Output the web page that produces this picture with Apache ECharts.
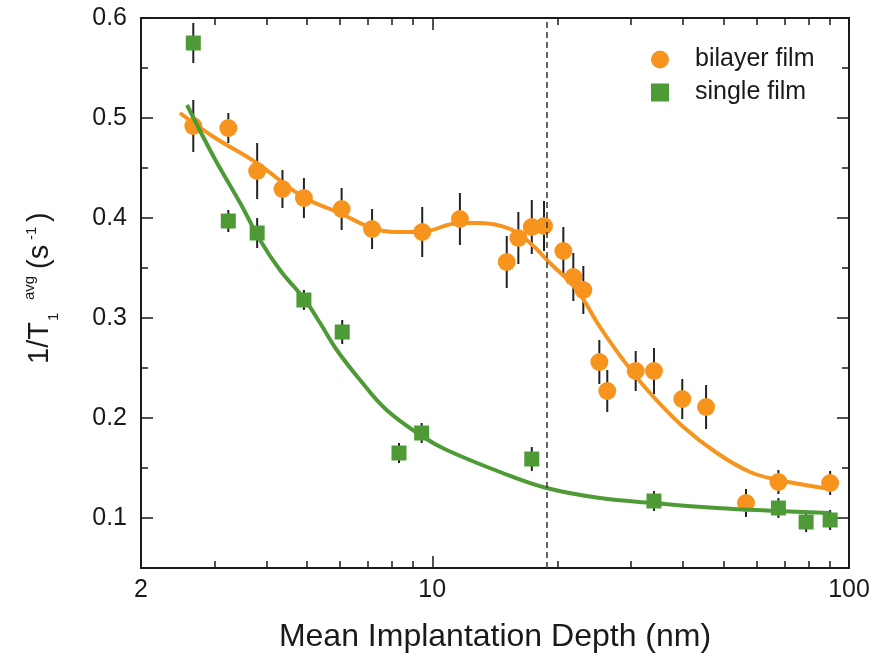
<!DOCTYPE html>
<html>
<head>
<meta charset="utf-8">
<script src="https://cdn.jsdelivr.net/npm/echarts@6/dist/echarts.min.js"></script>
<style>html,body{margin:0;padding:0;background:#fff;}#chart{width:884px;height:660px;}</style>
</head>
<body>
<div id="chart"></div>
<script>
// ---- data ----
const xTickLabels = [2, 10, 100];
const xMajorTicks = [10, 100];
const xMinorTicks = [3, 4, 5, 6, 7, 8, 9, 20, 30, 40, 50, 60, 70, 80, 90];
const yTickLabels = [0.1, 0.2, 0.3, 0.4, 0.5, 0.6];
const yMinorTicks = [0.15, 0.25, 0.35, 0.45, 0.55];

const bilayerDepth = [2.67, 3.24, 3.80, 4.37, 4.92, 6.06, 7.17, 9.46, 11.65, 15.09, 16.09, 17.33, 18.54, 20.63, 21.80, 23.04, 25.17, 26.3, 30.77, 34.04, 39.8, 45.4, 56.6, 67.7, 90.1];
const bilayerRate  = [0.492, 0.490, 0.447, 0.429, 0.420, 0.409, 0.389, 0.386, 0.399, 0.356, 0.380, 0.391, 0.392, 0.367, 0.341, 0.328, 0.256, 0.227, 0.247, 0.247, 0.219, 0.211, 0.115, 0.136, 0.135];
const bilayerErr   = [0.026, 0.015, 0.028, 0.019, 0.020, 0.021, 0.020, 0.025, 0.026, 0.026, 0.026, 0.027, 0.025, 0.024, 0.024, 0.024, 0.022, 0.021, 0.020, 0.023, 0.020, 0.022, 0.014, 0.012, 0.012];

const singleDepth = [2.67, 3.24, 3.80, 4.92, 6.08, 8.32, 9.43, 17.33, 34.04, 67.7, 78.9, 90.1];
const singleRate  = [0.575, 0.397, 0.385, 0.318, 0.286, 0.165, 0.185, 0.159, 0.117, 0.110, 0.096, 0.098];
const singleErr   = [0.020, 0.011, 0.015, 0.010, 0.012, 0.010, 0.010, 0.012, 0.010, 0.010, 0.010, 0.010];

const bilayerFitDepth = [2.48, 2.99, 3.79, 4.90, 6.00, 7.15, 8.21, 9.34, 11.65, 13.02, 15.37, 17.16, 19.16, 22.22, 25.26, 28.73, 33.3, 40.05, 48.2, 57.9, 67.7, 90.1];
const bilayerFitRate  = [0.505, 0.481, 0.455, 0.421, 0.405, 0.390, 0.386, 0.386, 0.395, 0.395, 0.389, 0.375, 0.355, 0.328, 0.291, 0.258, 0.225, 0.191, 0.165, 0.146, 0.138, 0.129];

const singleFitDepth = [2.58, 2.99, 3.46, 3.86, 4.31, 4.95, 5.38, 5.90, 6.71, 7.77, 9.52, 10.83, 14.54, 18.82, 25.26, 34.04, 48.2, 67.7, 90.1];
const singleFitRate  = [0.513, 0.461, 0.415, 0.378, 0.348, 0.318, 0.295, 0.268, 0.238, 0.208, 0.181, 0.168, 0.146, 0.130, 0.120, 0.115, 0.110, 0.107, 0.105];

const dashedDepth = 18.8;

// ---- styling ----
const ORANGE = '#F7941E';
const GREEN = '#4E9A37';
const INK = '#1a1a1a';
const FONT = "'Liberation Sans', Arial, sans-serif";

const zip = (a, b, c) => a.map((v, i) => c ? [v, b[i], c[i]] : [v, b[i]]);

const axisLineStyle = { lineStyle: { color: INK, width: 2 } };

function xAx(pos, major, extra) {
  return Object.assign({
    type: 'log', logBase: 10, min: 2, max: 100, position: pos,
    axisLine: major ? Object.assign({ show: true, onZero: false }, axisLineStyle) : { show: false },
    axisTick: { show: true, inside: true, length: major ? 12 : 7,
      customValues: major ? xMajorTicks : xMinorTicks, lineStyle: { color: INK, width: 1.5 } },
    axisLabel: { show: false },
    splitLine: { show: false }, minorTick: { show: false }
  }, extra || {});
}
function yAx(pos, major, extra) {
  return Object.assign({
    type: 'value', min: 0.05, max: 0.6, position: pos,
    axisLine: major ? Object.assign({ show: true, onZero: false }, axisLineStyle) : { show: false },
    axisTick: { show: true, inside: true, length: major ? 12 : 7,
      customValues: major ? yTickLabels : yMinorTicks, lineStyle: { color: INK, width: 1.5 } },
    axisLabel: { show: false },
    splitLine: { show: false }
  }, extra || {});
}

function errorBars(name, data) {
  return {
    type: 'custom', name: name + ' err', z: 2, silent: true,
    encode: { x: 0, y: 1 },
    data: data,
    renderItem: function (params, api) {
      const x = api.value(0), y = api.value(1), e = api.value(2);
      const p1 = api.coord([x, y - e]);
      const p2 = api.coord([x, y + e]);
      return { type: 'line', shape: { x1: p1[0], y1: p1[1], x2: p2[0], y2: p2[1] },
        style: { stroke: '#222', lineWidth: 2 } };
    }
  };
}

const chart = echarts.init(document.getElementById('chart'), null, { renderer: 'canvas' });
chart.setOption({
  animation: false,
  backgroundColor: '#fff',
  textStyle: { fontFamily: FONT },
  grid: { left: 141, right: 35, top: 18, bottom: 92, containLabel: false },
  xAxis: [
    xAx('bottom', true, {
      axisLabel: { show: true, customValues: xTickLabels, fontSize: 25, margin: 10, color: INK, fontFamily: FONT },
      name: 'Mean Implantation Depth (nm)', nameLocation: 'middle', nameGap: 53,
      nameTextStyle: { fontSize: 32, color: INK, fontFamily: FONT }
    }),
    xAx('bottom', false),
    xAx('top', true),
    xAx('top', false)
  ],
  yAxis: [
    yAx('left', true, {
      axisLabel: { show: true, customValues: yTickLabels, fontSize: 25, margin: 14, color: INK, fontFamily: FONT,
        formatter: v => Number(v).toFixed(1) }
    }),
    yAx('left', false),
    yAx('right', true),
    yAx('right', false)
  ],
  legend: {
    orient: 'vertical', left: 646, top: 42, itemWidth: 18, itemHeight: 18, itemGap: 8,
    textStyle: { fontSize: 25, color: INK, fontFamily: FONT, lineHeight: 25, padding: [0, 0, 0, 21] },
    data: [{ name: 'bilayer film', icon: 'circle' }, { name: 'single film', icon: 'rect' }]
  },
  graphic: [{
    type: 'group', x: 40, y: 288, rotation: Math.PI / 2, silent: true,
    children: [
      { type: 'text', x: -76, y: 0, style: { text: '1/T', font: '29px ' + FONT, fill: INK, align: 'left', verticalAlign: 'middle', textAlign: 'left', textVerticalAlign: 'middle' } },
      { type: 'text', x: -33, y: 14, style: { text: '1', font: '15px ' + FONT, fill: INK, align: 'left', verticalAlign: 'middle', textAlign: 'left', textVerticalAlign: 'middle' } },
      { type: 'text', x: -12, y: -10, style: { text: 'avg', font: '15px ' + FONT, fill: INK, align: 'left', verticalAlign: 'middle', textAlign: 'left', textVerticalAlign: 'middle' } },
      { type: 'text', x: 19, y: 0, style: { text: '(s', font: '29px ' + FONT, fill: INK, align: 'left', verticalAlign: 'middle', textAlign: 'left', textVerticalAlign: 'middle' } },
      { type: 'text', x: 48, y: -8, style: { text: '-1', font: '15px ' + FONT, fill: INK, align: 'left', verticalAlign: 'middle', textAlign: 'left', textVerticalAlign: 'middle' } },
      { type: 'text', x: 66, y: 0, style: { text: ')', font: '29px ' + FONT, fill: INK, align: 'left', verticalAlign: 'middle', textAlign: 'left', textVerticalAlign: 'middle' } }
    ]
  }],
  series: [
    errorBars('bilayer film', zip(bilayerDepth, bilayerRate, bilayerErr)),
    errorBars('single film', zip(singleDepth, singleRate, singleErr)),
    {
      type: 'scatter', name: 'bilayer film', z: 3, symbol: 'circle', symbolSize: 18,
      itemStyle: { color: ORANGE, opacity: 1 }, data: zip(bilayerDepth, bilayerRate)
    },
    {
      type: 'scatter', name: 'single film', z: 3, symbol: 'rect', symbolSize: 15,
      itemStyle: { color: GREEN, opacity: 1 }, data: zip(singleDepth, singleRate)
    },
    {
      type: 'line', name: 'bilayer fit', z: 4, smooth: 0.4, showSymbol: false, silent: true,
      lineStyle: { color: ORANGE, width: 4 }, itemStyle: { color: ORANGE },
      data: zip(bilayerFitDepth, bilayerFitRate),
      markLine: {
        silent: true, symbol: ['none', 'none'], label: { show: false },
        lineStyle: { type: [6, 4], color: '#333', width: 1.5 },
        data: [{ xAxis: dashedDepth }]
      }
    },
    {
      type: 'line', name: 'single fit', z: 4, smooth: 0.4, showSymbol: false, silent: true,
      lineStyle: { color: GREEN, width: 4 }, itemStyle: { color: GREEN },
      data: zip(singleFitDepth, singleFitRate)
    }
  ]
});
</script>
</body>
</html>
